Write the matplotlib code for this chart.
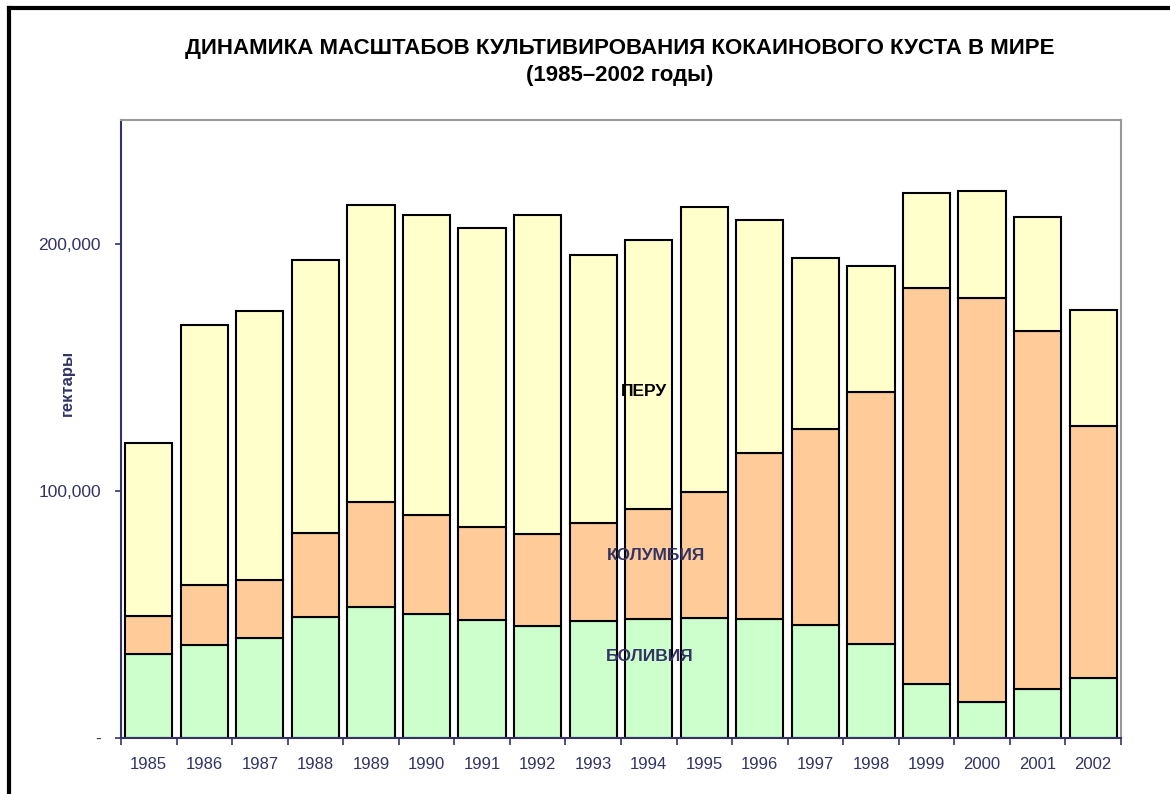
import matplotlib
matplotlib.use('Agg')
import matplotlib.pyplot as plt
from matplotlib.lines import Line2D

plt.rcParams['font.family'] = ['Liberation Sans', 'DejaVu Sans']

years = ['1985', '1986', '1987', '1988', '1989', '1990', '1991', '1992', '1993',
         '1994', '1995', '1996', '1997', '1998', '1999', '2000', '2001', '2002']

bolivia = [34000, 37500, 40300, 48900, 52900, 50300, 47900, 45500, 47200,
           48100, 48600, 48100, 45800, 38000, 21800, 14600, 19900, 24400]
colombia = [15500, 24500, 23500, 34000, 42400, 40100, 37500, 37100, 39700,
            44700, 50900, 67200, 79400, 101800, 160100, 163300, 144800, 102000]
peru = [70000, 105000, 109000, 110500, 120400, 121300, 120800, 129100, 108600,
        108800, 115300, 94400, 68800, 51000, 38700, 43400, 46200, 46700]

purple = '#333366'

fig = plt.figure(figsize=[11.7, 7.94], dpi=100)
ax = fig.add_axes([0.1034, 0.0705, 0.8547, 0.7784])

x = range(len(years))
bottom2 = [b + c for b, c in zip(bolivia, colombia)]
ax.bar(x, bolivia, width=0.85, color='#CCFFCC', edgecolor='black', linewidth=1.5)
ax.bar(x, colombia, width=0.85, bottom=bolivia, color='#FFCC99', edgecolor='black', linewidth=1.5)
ax.bar(x, peru, width=0.85, bottom=bottom2, color='#FFFFCC', edgecolor='black', linewidth=1.5)

ax.set_xlim(-0.5, 17.5)
ax.set_ylim(0, 250000)

# ticks between categories, labels centred
ax.set_xticks([i - 0.5 for i in range(len(years) + 1)])
ax.set_xticklabels([])
ax.set_xticks(list(x), minor=True)
ax.set_xticklabels(years, minor=True)
ax.tick_params(axis='x', which='major', direction='out', length=5, color=purple, width=1.2)
ax.tick_params(axis='x', which='minor', length=0, labelsize=12, labelcolor=purple, pad=14)

ax.set_yticks([0, 100000, 200000])
ax.set_yticklabels(['-', '100,000', '200,000'])
ax.tick_params(axis='y', direction='out', length=4.5, color=purple, width=1.2,
               labelsize=12.5, labelcolor=purple, pad=10)

ax.spines['left'].set_color(purple)
ax.spines['bottom'].set_color(purple)
ax.spines['left'].set_linewidth(1.5)
ax.spines['bottom'].set_linewidth(1.5)
ax.spines['top'].set_color('#999999')
ax.spines['right'].set_color('#999999')
ax.spines['top'].set_linewidth(1.5)
ax.spines['right'].set_linewidth(1.5)

ax.set_ylabel('гектары', fontsize=12, fontweight='bold', color=purple)
ax.yaxis.set_label_coords(-0.046, 0.575)

ax.text(8.91, 140000, 'ПЕРУ', fontsize=12.5, fontweight='bold', color='black', ha='center', va='center')
ax.text(9.13, 74000, 'КОЛУМБИЯ', fontsize=12.5, fontweight='bold', color=purple, ha='center', va='center')
ax.text(9.02, 33000, 'БОЛИВИЯ', fontsize=12.5, fontweight='bold', color=purple, ha='center', va='center')

fig.text(0.53, 0.9395, 'ДИНАМИКА МАСШТАБОВ КУЛЬТИВИРОВАНИЯ КОКАИНОВОГО КУСТА В МИРЕ',
         fontsize=16, fontweight='bold', ha='center', va='center')
fig.text(0.53, 0.9055, '(1985–2002 годы)', fontsize=16, fontweight='bold', ha='center', va='center')

# black frame at top and left edge of the cropped chart
fig.add_artist(Line2D([0.0077, 1.0], [0.9899, 0.9899], color='black', linewidth=3, transform=fig.transFigure))
fig.add_artist(Line2D([0.0077, 0.0077], [0.0, 0.9899], color='black', linewidth=3, transform=fig.transFigure))

plt.savefig('out.png', dpi=100)
